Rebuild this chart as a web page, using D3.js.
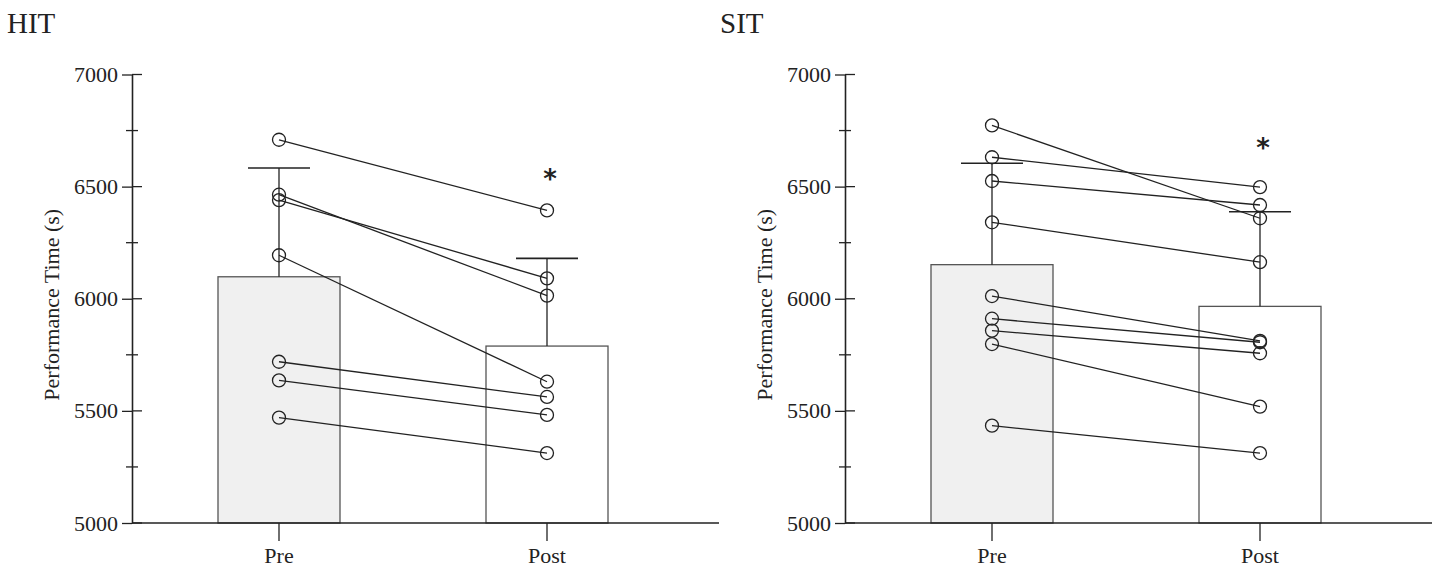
<!DOCTYPE html>
<html>
<head>
<meta charset="utf-8">
<script src="https://cdn.jsdelivr.net/npm/d3@7"></script>
<style>
  body { margin: 0; background: #fff; }
  text { font-family: "Liberation Serif", "Times New Roman", serif; fill: #222; }
</style>
</head>
<body>
<div id="chart"></div>
<script>
// data
var groups = ["HIT", "SIT"];
var phases = ["Pre", "Post"];
var hitMean = [6098, 5789];
var hitSD = [6583, 6180];      // top of error bar
var hitPre = [6709, 6464, 6440, 6194, 5719, 5636, 5470];
var hitPost = [6394, 6014, 6091, 5630, 5562, 5482, 5312];
var sitMean = [6152, 5966];
var sitSD = [6604, 6388];
var sitPre = [6773, 6631, 6525, 6341, 6012, 5911, 5858, 5798, 5434];
var sitPost = [6359, 6498, 6418, 6163, 5812, 5806, 5757, 5519, 5312];
var majorTicks = [5000, 5500, 6000, 6500, 7000];
var minorTicks = [5250, 5750, 6250, 6750];
var sigY = [6547, 6686];  // asterisk over Post, per group

var w = 1440, h = 567;
var vis = d3.select("#chart").append("svg")
    .attr("width", w)
    .attr("height", h);

var y = d3.scaleLinear().domain([5000, 7000]).range([523, 74.5]);
var ink = "#222";

var panels = [
  {name: groups[0], axisX: 132, mean: hitMean, sd: hitSD, pre: hitPre, post: hitPost, sig: sigY[0]},
  {name: groups[1], axisX: 845, mean: sitMean, sd: sitSD, pre: sitPre, post: sitPost, sig: sigY[1]}
];

panels.forEach(function(p) {
  var g = vis.append("g");
  var x = d3.scalePoint().domain(phases).range([p.axisX + 147, p.axisX + 415]);
  var bw = 122, cap = 62;

  // title
  g.append("text")
    .attr("x", p.axisX - 125)
    .attr("y", 33)
    .style("font-size", "29px")
    .text(p.name);

  // bars
  g.selectAll("rect.bar")
    .data(phases)
    .enter().append("rect")
    .attr("class", "bar")
    .attr("x", function(d) { return x(d) - bw / 2; })
    .attr("y", function(d, i) { return y(p.mean[i]); })
    .attr("width", bw)
    .attr("height", function(d, i) { return y(5000) - y(p.mean[i]); })
    .attr("fill", function(d, i) { return i == 0 ? "#f0f0f0" : "#fff"; })
    .attr("stroke", "#555")
    .attr("stroke-width", 1.3);

  // error bars (upper only)
  g.selectAll("line.err")
    .data(phases)
    .enter().append("line")
    .attr("x1", function(d) { return x(d); })
    .attr("x2", function(d) { return x(d); })
    .attr("y1", function(d, i) { return y(p.mean[i]); })
    .attr("y2", function(d, i) { return y(p.sd[i]); })
    .attr("stroke", ink).attr("stroke-width", 1.3);
  g.selectAll("line.cap")
    .data(phases)
    .enter().append("line")
    .attr("x1", function(d) { return x(d) - cap / 2; })
    .attr("x2", function(d) { return x(d) + cap / 2; })
    .attr("y1", function(d, i) { return y(p.sd[i]); })
    .attr("y2", function(d, i) { return y(p.sd[i]); })
    .attr("stroke", ink).attr("stroke-width", 1.6);

  // paired lines
  g.selectAll("line.pair")
    .data(p.pre)
    .enter().append("line")
    .attr("x1", x("Pre"))
    .attr("x2", x("Post"))
    .attr("y1", function(d) { return y(d); })
    .attr("y2", function(d, i) { return y(p.post[i]); })
    .attr("stroke", ink).attr("stroke-width", 1.3);

  // circles
  [["Pre", p.pre], ["Post", p.post]].forEach(function(s) {
    g.selectAll(null)
      .data(s[1])
      .enter().append("circle")
      .attr("cx", x(s[0]))
      .attr("cy", function(d) { return y(d); })
      .attr("r", 6.5)
      .attr("fill", "none")
      .attr("stroke", ink)
      .attr("stroke-width", 1.3);
  });

  // significance
  g.append("text")
    .attr("x", x("Post") + 3)
    .attr("y", y(p.sig) + 12)
    .attr("text-anchor", "middle")
    .style("font-family", "DejaVu Sans, sans-serif")
    .style("font-weight", "bold")
    .style("font-size", "26px")
    .text("*");

  // y axis
  var yAxis = d3.axisLeft(y).tickValues(majorTicks).tickFormat(d3.format("d"))
    .tickSizeInner(10).tickSizeOuter(0).tickPadding(4);
  var ya = g.append("g")
    .attr("transform", "translate(" + p.axisX + ",0)")
    .call(yAxis);
  ya.select(".domain").attr("stroke", ink).attr("stroke-width", 1.6);
  ya.selectAll(".tick line").attr("stroke", ink).attr("stroke-width", 1.3);
  ya.selectAll(".tick text")
    .style("font-family", "Liberation Serif, serif")
    .style("font-size", "22px")
    .attr("fill", ink);
  ya.selectAll("line.tr")
    .data(majorTicks)
    .enter().append("line")
    .attr("x1", 0).attr("x2", 10)
    .attr("y1", function(d) { return y(d); })
    .attr("y2", function(d) { return y(d); })
    .attr("stroke", ink).attr("stroke-width", 1.3);
  ya.selectAll("line.minor")
    .data(minorTicks)
    .enter().append("line")
    .attr("x1", -6).attr("x2", 6)
    .attr("y1", function(d) { return y(d); })
    .attr("y2", function(d) { return y(d); })
    .attr("stroke", ink).attr("stroke-width", 1.3);

  g.append("text")
    .attr("transform", "translate(" + (p.axisX - 73) + "," + ((y(5000) + y(7000)) / 2 + 6) + ") rotate(-90)")
    .attr("text-anchor", "middle")
    .style("font-size", "22px")
    .text("Performance Time (s)");

  // x axis
  g.append("line")
    .attr("x1", p.axisX).attr("x2", p.axisX + 587)
    .attr("y1", y(5000)).attr("y2", y(5000))
    .attr("stroke", ink).attr("stroke-width", 1.6);
  g.selectAll("line.xt")
    .data(phases)
    .enter().append("line")
    .attr("x1", function(d) { return x(d); })
    .attr("x2", function(d) { return x(d); })
    .attr("y1", y(5000)).attr("y2", y(5000) + 18)
    .attr("stroke", ink).attr("stroke-width", 1.3);
  g.selectAll("text.xl")
    .data(phases)
    .enter().append("text")
    .attr("x", function(d) { return x(d); })
    .attr("y", 563)
    .attr("text-anchor", "middle")
    .style("font-size", "22px")
    .text(function(d) { return d; });
});
</script>
</body>
</html>
